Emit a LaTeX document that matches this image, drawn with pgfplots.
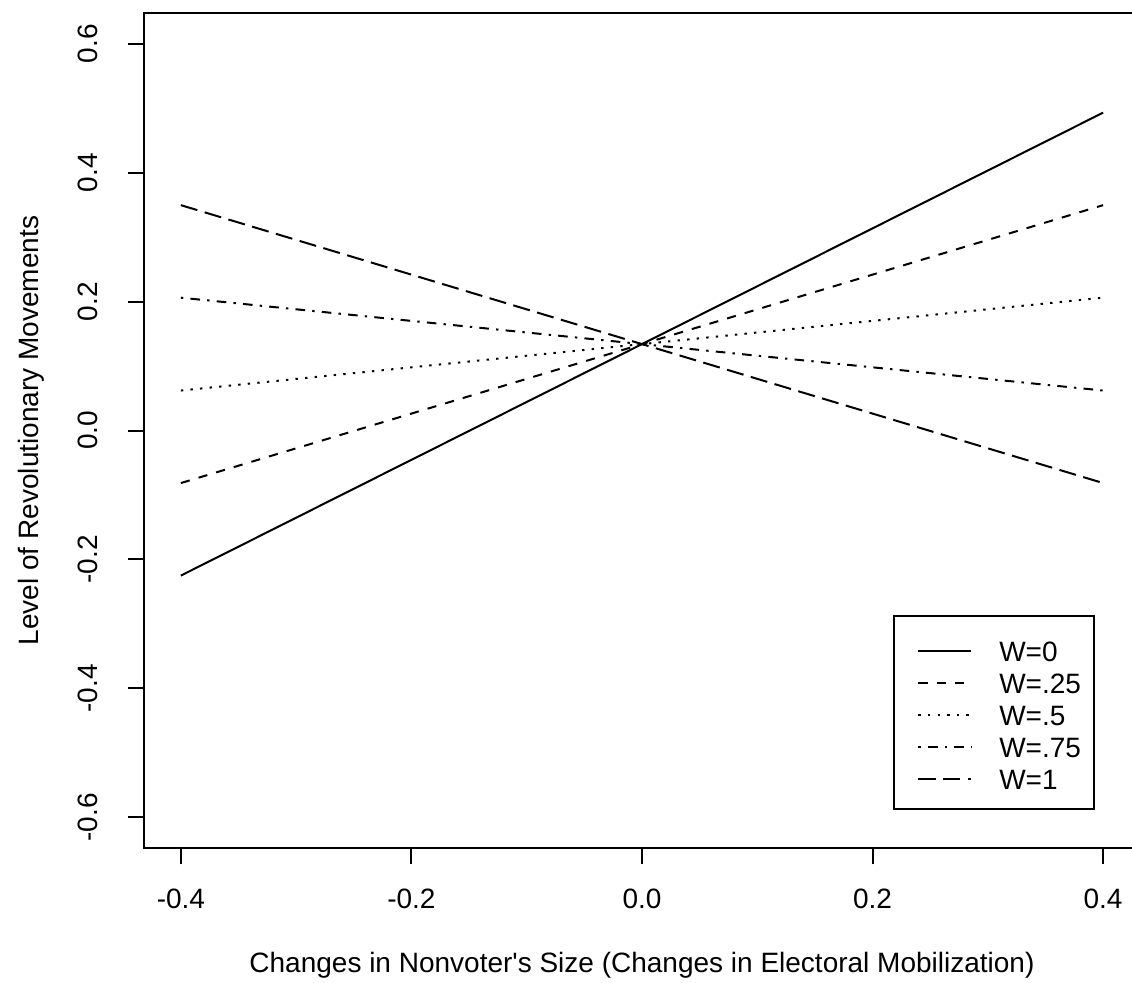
\documentclass[border=0pt]{standalone}
\usepackage{fontspec}
\setmainfont{Liberation Sans}
\usepackage{pgfplots}
\pgfplotsset{compat=1.18}
\begin{document}
\begin{tikzpicture}[font=\fontsize{14}{16.8}\selectfont]
\path[use as bounding box] (-72pt,-66.85pt) rectangle (494pt,424.15pt);
\begin{axis}[
  at={(0,0)}, anchor=south west,
  scale only axis, width=498pt, height=417.8pt,
  xmin=-0.432, xmax=0.432, ymin=-0.648, ymax=0.648,
  axis line style={line width=1pt},
  xtick={-0.4,-0.2,0,0.2,0.4},
  xticklabels={-0.4,-0.2,0.0,0.2,0.4},
  ytick={-0.6,-0.4,-0.2,0,0.2,0.4,0.6},
  yticklabels={-0.6,-0.4,-0.2,0.0,0.2,0.4,0.6},
  xtick pos=bottom, ytick pos=left,
  tick align=outside, major tick length=8pt,
  tick style={line width=1pt, black},
  xticklabel style={anchor=base},
  xticklabel shift=21.9pt,
  yticklabel style={rotate=90, anchor=base},
  yticklabel shift=15pt,
  xlabel={Changes in Nonvoter\textquotesingle s Size (Changes in Electoral Mobilization)},
  ylabel={Level of Revolutionary Movements},
  xlabel style={at={(axis description cs:0.5,-0.1492)}, anchor=base},
  ylabel style={at={(axis description cs:-0.1064,0.5)}, anchor=base, rotate=0},
  legend style={at={(axis cs:0.218,-0.2864)}, anchor=north west, draw=black, line width=1pt,
    fill=white, inner xsep=6.5pt, inner ysep=8.25pt, row sep=0pt,
    column sep=13.5pt,
    nodes={inner sep=0pt, text height=14.25pt, text depth=1.75pt, anchor=base west}},
  legend cell align=left,
  legend image code/.code={\path[draw=none] (0pt,5pt) -- (5.5pt,5pt); \draw[#1] (5.5pt,5pt) -- (32pt,5pt);},
]
\addplot[black, line width=1pt] coordinates {(-0.4,-0.225) (0.4,0.493)};
\addlegendentry{W=0}
\addplot[black, line width=1pt, dash pattern=on 4.6pt off 4.6pt] coordinates {(-0.4,-0.0815) (0.4,0.3495)};
\addlegendentry{W=.25}
\addplot[black, line width=1pt, dash pattern=on 1.2pt off 3.6pt] coordinates {(-0.4,0.062) (0.4,0.206)};
\addlegendentry{W=.5}
\addplot[black, line width=1pt, dash pattern=on 1.2pt off 3.6pt on 4.8pt off 3.6pt] coordinates {(-0.4,0.206) (0.4,0.062)};
\addlegendentry{W=.75}
\addplot[black, line width=1pt, dash pattern=on 8.6pt off 3.8pt] coordinates {(-0.4,0.3495) (0.4,-0.0815)};
\addlegendentry{W=1}
\end{axis}
\end{tikzpicture}
\end{document}
